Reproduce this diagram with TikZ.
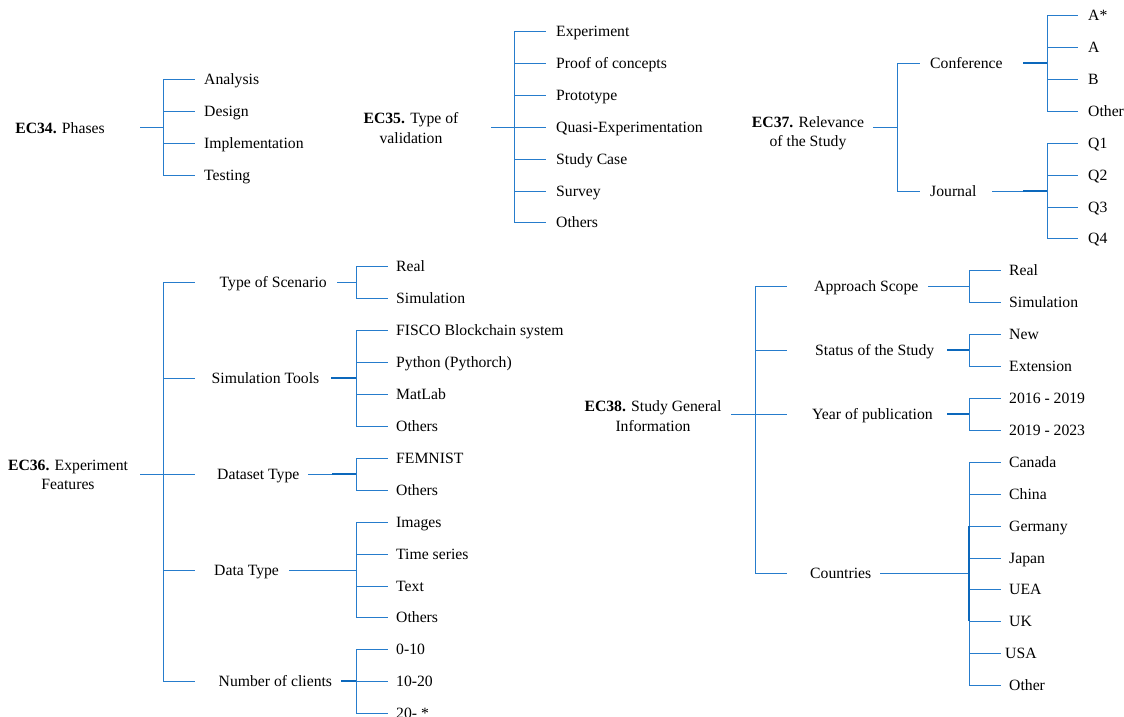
\documentclass[tikz,border=0pt]{standalone}
\usepackage{fontspec}
\setmainfont{Liberation Serif}
\definecolor{twigblue}{RGB}{38,124,204}
\definecolor{hubblue}{RGB}{12,104,188}
% #1 junction, #2 branch end, #3 text x, #4 name prefix, #5 list text/y
\newcommand{\twig}[5]{%
  \foreach \lbl/\yy [count=\i] in {#5} {%
    \node[leaf] (#4\i) at (#3,\yy) {\lbl};
    \draw[br] (#1) |- (#4\i.west -| #2);
  }}
\begin{document}
\begin{tikzpicture}[x=1pt,y=-1pt,
  every node/.style={font=\fontsize{15.7}{19.5}\selectfont, inner sep=0pt},
  leaf/.style={anchor=west, text height=10.4pt, text depth=0pt},
  root/.style={align=center, anchor=center},
  br/.style={draw=twigblue, line width=1pt},
  hub/.style={draw=hubblue, line width=1.9pt},
]
\useasboundingbox (0,0) rectangle (1124,716);

% ---------- EC34 ----------
\node[root] (ec34) at (60,128) {\textbf{EC34.} Phases};
\coordinate (o34) at (140,127);
\coordinate (j34) at (163,127);
\coordinate (e34) at (195,127);
\draw[br] (o34) -- (j34);
\twig{j34}{e34}{204}{ph}{Analysis/79,Design/111,Implementation/143,Testing/175}

% ---------- EC35 ----------
\node[root] (ec35) at (411,128) {\textbf{EC35.} Type of\\validation};
\coordinate (o35) at (491,127);
\coordinate (j35) at (514,127);
\coordinate (e35) at (546,127);
\draw[br] (o35) -- (j35);
\twig{j35}{e35}{556}{va}{Experiment/31,Proof of concepts/63,Prototype/95,Quasi-Experimentation/127,Study Case/159,Survey/191,Others/222}

% ---------- EC37 ----------
\node[root] (ec37) at (808,133) {\textbf{EC37.} Relevance\\of the Study};
\coordinate (o37) at (873,127);
\coordinate (j37) at (897,127);
\coordinate (e37) at (920,127);
\node[leaf] (conf) at (930,63) {Conference};
\node[leaf] (jour) at (930,191) {Journal};
\draw[br] (o37) -- (j37);
\draw[br] (j37) |- (conf.west -| e37);
\draw[br] (j37) |- (jour.west -| e37);
\coordinate (oc) at (1023,63);
\coordinate (jc) at (1047,63);
\coordinate (ec) at (1078,63);
\draw[hub] (oc) -- (jc);
\twig{jc}{ec}{1088}{cf}{A*/15,A/47,B/79,Other/111}
\coordinate (oj) at (992,191);
\coordinate (hj) at (1023,191);
\coordinate (jj) at (1047,191);
\draw[br] (oj) -- (jj);
\draw[hub] (hj) -- (jj);
\twig{jj}{ec}{1088}{jn}{Q1/143,Q2/175,Q3/207,Q4/238}

% ---------- EC36 ----------
\node[root] (ec36) at (68,475) {\textbf{EC36.} Experiment\\Features};
\coordinate (o36) at (140,474);
\coordinate (j36) at (163,474);
\coordinate (e36) at (195,474);
\draw[br] (o36) -- (j36);
\node[leaf] (sc) at (219.5,282) {Type of Scenario};
\node[leaf] (st) at (211.5,378) {Simulation Tools};
\node[leaf] (dt) at (217,474) {Dataset Type};
\node[leaf] (da) at (214,570) {Data Type};
\node[leaf] (nc) at (218.5,681) {Number of clients};
\foreach \m in {sc,st,dt,da,nc} \draw[br] (j36) |- (\m.west -| e36);
\coordinate (f36) at (388,474);
% type of scenario
\coordinate (osc) at (337,282);
\coordinate (jsc) at (356,282);
\draw[br] (osc) -- (jsc);
\twig{jsc}{f36}{396}{scl}{Real/266,Simulation/298}
% simulation tools
\coordinate (ost) at (331,378);
\coordinate (jst) at (356,378);
\draw[hub] (ost) -- (jst);
\twig{jst}{f36}{396}{stl}{FISCO Blockchain system/330,Python (Pythorch)/362,MatLab/394,Others/426}
% dataset type
\coordinate (odt) at (308,474);
\coordinate (hdt) at (332,474);
\coordinate (jdt) at (356,474);
\draw[br] (odt) -- (jdt);
\draw[hub] (hdt) -- (jdt);
\twig{jdt}{f36}{396}{dtl}{FEMNIST/458,Others/490}
% data type
\coordinate (oda) at (289,570);
\coordinate (jda) at (356,570);
\draw[br] (oda) -- (jda);
\twig{jda}{f36}{396}{dal}{Images/522,Time series/554,Text/586,Others/617}
% number of clients
\coordinate (onc) at (341,681);
\coordinate (jnc) at (356,681);
\draw[hub] (onc) -- (jnc);
\twig{jnc}{f36}{396}{ncl}{0-10/649,10-20/681,20- */713}

% ---------- EC38 ----------
\node[root] (ec38) at (653,416) {\textbf{EC38.} Study General\\Information};
\coordinate (o38) at (731,414);
\coordinate (j38) at (755,414);
\coordinate (e38) at (787,414);
\draw[br] (o38) -- (j38);
\node[leaf] (as) at (814,286) {Approach Scope};
\node[leaf] (ss) at (815,350) {Status of the Study};
\node[leaf] (yp) at (812,414) {Year of publication};
\node[leaf] (co) at (810,573) {Countries};
\foreach \m in {as,ss,yp,co} \draw[br] (j38) |- (\m.west -| e38);
\coordinate (f38) at (1001,414);
% approach scope
\coordinate (oas) at (928,286);
\coordinate (jas) at (969,286);
\draw[br] (oas) -- (jas);
\twig{jas}{f38}{1009}{asl}{Real/270,Simulation/302}
% status of the study
\coordinate (oss) at (947,350);
\coordinate (jss) at (969,350);
\draw[hub] (oss) -- (jss);
\twig{jss}{f38}{1009}{ssl}{New/334,Extension/366}
% year of publication
\coordinate (oyp) at (947,414);
\coordinate (jyp) at (969,414);
\draw[hub] (oyp) -- (jyp);
\twig{jyp}{f38}{1009}{ypl}{2016 - 2019/398,2019 - 2023/430}
% countries
\coordinate (oco) at (880,573);
\coordinate (jco) at (969,573);
\draw[br] (oco) -- (jco);
\twig{jco}{f38}{1009}{col}{Canada/462,China/494,Germany/526,Japan/558,UEA/589,UK/621,{\kern-4pt USA}/653,Other/685}
\draw[hub, line width=1.6pt] (jco |- col3.west) -- (jco |- col6.west);
\end{tikzpicture}
\end{document}
